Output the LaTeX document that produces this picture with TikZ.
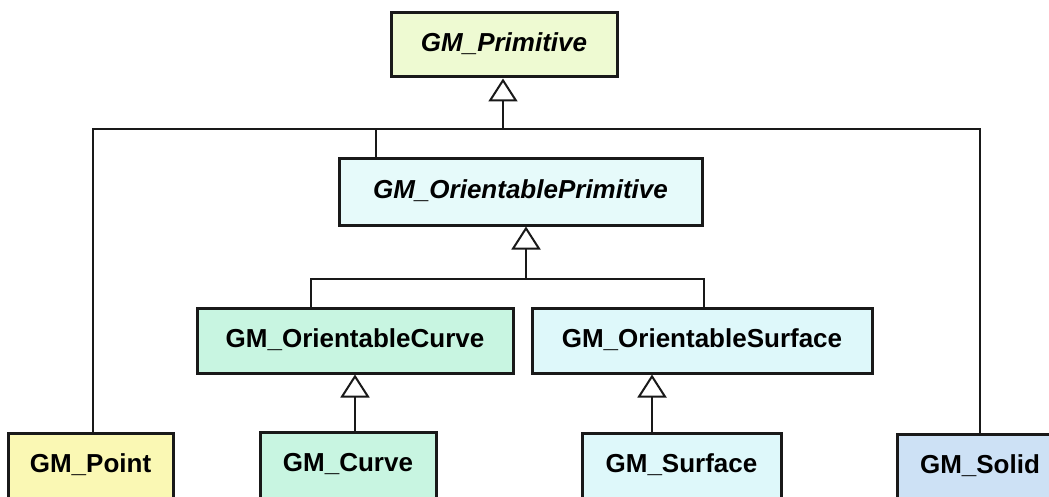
\documentclass[tikz,border=0pt]{standalone}
\usepackage{fontspec}
\setmainfont{Liberation Sans}
\usetikzlibrary{arrows.meta}

\definecolor{edge}{RGB}{25,25,25}
\definecolor{primfill}{RGB}{238,250,210}
\definecolor{oprimfill}{RGB}{230,250,250}
\definecolor{curvefill}{RGB}{200,245,225}
\definecolor{surffill}{RGB}{222,248,250}
\definecolor{pointfill}{RGB}{250,248,180}
\definecolor{solidfill}{RGB}{205,225,245}

\tikzset{
  cls/.style={draw=edge, line width=3pt, rectangle, inner sep=0pt,
    font=\fontsize{26pt}{30pt}\selectfont\bfseries,
    text height=19pt, text depth=6pt, minimum height=64pt},
  abstractcls/.style={cls, font=\fontsize{26pt}{30pt}\selectfont\bfseries\itshape},
  midcls/.style={cls, minimum height=65pt},
  leafcls/.style={cls, text height=29pt, text depth=30pt, inner ysep=10pt},
  link/.style={draw=edge, line width=2pt},
  gen/.style={link, -{Triangle[open, length=23pt, width=29pt, line width=2pt]}},
}

\begin{document}
\begin{tikzpicture}[x=1pt, y=-1pt]
  \clip (0,0) rectangle (1049,497);
  \fill[white] (0,0) rectangle (1049,497);

  % classes
  \node[abstractcls, fill=primfill, minimum width=226pt] (prim) at (504,45) {GM\_Primitive};
  \node[abstractcls, fill=oprimfill, minimum width=363pt, minimum height=66pt] (oprim) at (520.5,192) {GM\_OrientablePrimitive};
  \node[midcls, fill=curvefill, minimum width=316pt] (ocurve) at (355,340.5) {GM\_OrientableCurve};
  \node[midcls, fill=surffill, minimum width=340pt] (osurf) at (702,340.5) {GM\_OrientableSurface};
  \node[leafcls, fill=pointfill, minimum width=165pt] (point) at (90.5,472.5) {GM\_Point};
  \node[leafcls, fill=curvefill, minimum width=176pt] (curve) at (348,471.5) {GM\_Curve};
  \node[leafcls, fill=surffill, minimum width=199pt] (surface) at (681.5,472.5) {GM\_Surface};
  \node[leafcls, fill=solidfill, minimum width=166pt] (solid) at (980,473.5) {GM\_Solid};

  % junction points of the connector buses
  \coordinate (ja) at (93,129);
  \coordinate (jb) at (980,129);
  \coordinate (jc) at (503,129);
  \coordinate (jd) at (376,129);
  \coordinate (je) at (311,279);
  \coordinate (jf) at (704,279);
  \coordinate (jg) at (526,279);
  \coordinate (jh) at (355,400);
  \coordinate (ji) at (652,400);

  % generalisation: GM_Point, GM_OrientablePrimitive, GM_Solid -> GM_Primitive
  \draw[link] (point.north -| ja) -- (ja) -- (jb) -- (solid.north -| jb);
  \draw[link] (jd) -- (oprim.north -| jd);
  \draw[gen] (jc) -- (prim.south -| jc);

  % GM_OrientableCurve, GM_OrientableSurface -> GM_OrientablePrimitive
  \draw[link] (ocurve.north -| je) -- (je) -- (jf) -- (osurf.north -| jf);
  \draw[gen] (jg) -- (oprim.south -| jg);

  % GM_Curve -> GM_OrientableCurve, GM_Surface -> GM_OrientableSurface
  \draw[gen] (curve.north -| jh) -- (ocurve.south -| jh);
  \draw[gen] (surface.north -| ji) -- (osurf.south -| ji);
\end{tikzpicture}
\end{document}
